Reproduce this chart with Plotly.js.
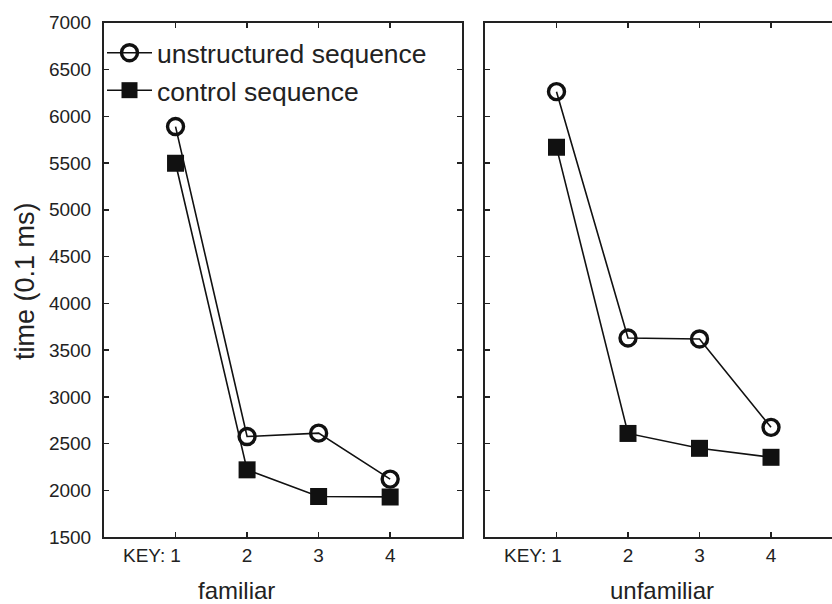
<!DOCTYPE html>
<html>
<head>
<meta charset="utf-8">
<script src="https://cdn.plot.ly/plotly-3.0.1.min.js"></script>
<style>html,body{margin:0;padding:0;background:#fff;}#chart{width:832px;height:604px;}</style>
</head>
<body>
<div id="chart"></div>
<script>
const keys = [1, 2, 3, 4];
const tickLabels = ['1', '2', '3', '4'];
const yTicks = [1500, 2000, 2500, 3000, 3500, 4000, 4500, 5000, 5500, 6000, 6500, 7000];
const familiarUnstructured = [5890, 2577, 2613, 2122];
const familiarControl = [5498, 2221, 1936, 1932];
const unfamiliarUnstructured = [6263, 3630, 3620, 2675];
const unfamiliarControl = [5668, 2610, 2451, 2355];
const seriesNames = ['unstructured sequence', 'control sequence'];
const panelTitles = ['familiar', 'unfamiliar'];

const FONT = 'Liberation Sans, Arial, sans-serif';
const openMarker = {symbol: 'circle-open', size: 16, color: '#111', line: {width: 3.4, color: '#111'}};
const squareMarker = {symbol: 'square', size: 17, color: '#111', line: {width: 0}};
const lineStyle = {color: '#111', width: 1.6};

const traces = [
  {x: keys, y: familiarUnstructured, name: seriesNames[0], mode: 'lines+markers', marker: openMarker, line: lineStyle, xaxis: 'x', yaxis: 'y', showlegend: true},
  {x: keys, y: familiarControl, name: seriesNames[1], mode: 'lines+markers', marker: squareMarker, line: lineStyle, xaxis: 'x', yaxis: 'y', showlegend: true},
  {x: keys, y: unfamiliarUnstructured, name: seriesNames[0], mode: 'lines+markers', marker: openMarker, line: lineStyle, xaxis: 'x2', yaxis: 'y2', showlegend: false},
  {x: keys, y: unfamiliarControl, name: seriesNames[1], mode: 'lines+markers', marker: squareMarker, line: lineStyle, xaxis: 'x2', yaxis: 'y2', showlegend: false}
];

const W = 832, H = 604;
const yDom = [(H - 537.3) / H, (H - 22.7) / H];
const xCommon = {
  tickmode: 'array', tickvals: keys, ticktext: tickLabels,
  ticks: 'inside', ticklen: 5, tickwidth: 1.5, tickcolor: '#222',
  showline: true, linecolor: '#222', linewidth: 2, mirror: 'ticks',
  showgrid: false, zeroline: false, fixedrange: true,
  tickfont: {family: FONT, size: 19, color: '#222'}
};
const yCommon = {
  range: [1500, 7000], tickmode: 'array', tickvals: yTicks,
  ticks: 'inside', ticklen: 5, tickwidth: 1.5, tickcolor: '#222',
  showline: true, linecolor: '#222', linewidth: 2,
  showgrid: false, zeroline: false, fixedrange: true,
  tickfont: {family: FONT, size: 19, color: '#222'}
};

const layout = {
  width: W, height: H,
  margin: {l: 0, r: 0, t: 0, b: 0},
  paper_bgcolor: '#fff', plot_bgcolor: '#fff',
  font: {family: FONT, color: '#222'},
  xaxis: Object.assign({}, xCommon, {domain: [104 / W, 461.7 / W], range: [0, 5], anchor: 'y'}),
  yaxis: Object.assign({}, yCommon, {domain: yDom, anchor: 'x', mirror: 'ticks', ticklabelstandoff: 7}),
  xaxis2: Object.assign({}, xCommon, {domain: [485 / W, 1], range: [0, 4.853], anchor: 'y2'}),
  yaxis2: Object.assign({}, yCommon, {domain: yDom, anchor: 'x2', showticklabels: false, mirror: false}),
  showlegend: true,
  legend: {
    x: 102 / W, y: (H - 29) / H, xanchor: 'left', yanchor: 'top',
    bgcolor: 'rgba(0,0,0,0)', borderwidth: 0,
    font: {family: FONT, size: 26.5, color: '#222'},
    itemwidth: 45, tracegroupgap: 0
  },
  annotations: [
    {text: 'KEY:', xref: 'x', yref: 'paper', x: 1, y: (H - 555) / H, xanchor: 'right', yanchor: 'middle', xshift: -9, showarrow: false, font: {family: FONT, size: 19, color: '#222'}},
    {text: 'KEY:', xref: 'x2', yref: 'paper', x: 1, y: (H - 555) / H, xanchor: 'right', yanchor: 'middle', xshift: -9, showarrow: false, font: {family: FONT, size: 19, color: '#222'}},
    {text: panelTitles[0], xref: 'paper', yref: 'paper', x: 236 / W, y: (H - 590) / H, xanchor: 'center', yanchor: 'middle', showarrow: false, font: {family: FONT, size: 24, color: '#222'}},
    {text: panelTitles[1], xref: 'paper', yref: 'paper', x: 662 / W, y: (H - 590) / H, xanchor: 'center', yanchor: 'middle', showarrow: false, font: {family: FONT, size: 24, color: '#222'}},
    {text: 'time (0.1 ms)', xref: 'paper', yref: 'paper', x: 25 / W, y: (H - 281) / H, xanchor: 'center', yanchor: 'middle', textangle: -90, showarrow: false, font: {family: FONT, size: 27, color: '#222'}}
  ]
};

Plotly.newPlot('chart', traces, layout, {displayModeBar: false, staticPlot: true});
</script>
</body>
</html>
